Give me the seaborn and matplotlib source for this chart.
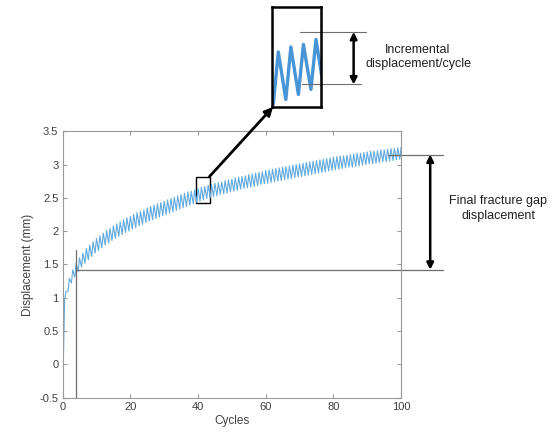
import numpy as np
import pandas as pd
import seaborn as sns
import matplotlib.pyplot as plt

# values (per loading cycle)
cycles = np.arange(1, 101)
peaks = [1.09, 1.29, 1.42, 1.52, 1.60, 1.67, 1.74, 1.79, 1.84, 1.89,
         1.93, 1.97, 2.01, 2.04, 2.08, 2.11, 2.14, 2.17, 2.20, 2.22,
         2.25, 2.28, 2.30, 2.32, 2.35, 2.37, 2.39, 2.41, 2.43, 2.45,
         2.47, 2.49, 2.51, 2.53, 2.55, 2.57, 2.59, 2.60, 2.62, 2.64,
         2.66, 2.67, 2.69, 2.70, 2.72, 2.73, 2.74, 2.76, 2.77, 2.78,
         2.80, 2.81, 2.82, 2.83, 2.85, 2.86, 2.87, 2.88, 2.89, 2.91,
         2.92, 2.93, 2.94, 2.95, 2.96, 2.97, 2.98, 2.99, 3.00, 3.01,
         3.02, 3.03, 3.04, 3.05, 3.06, 3.07, 3.08, 3.09, 3.10, 3.11,
         3.12, 3.13, 3.13, 3.14, 3.15, 3.16, 3.17, 3.17, 3.18, 3.19,
         3.20, 3.20, 3.21, 3.22, 3.22, 3.23, 3.24, 3.24, 3.25, 3.26]
troughs = [0.97, 1.10, 1.22, 1.31, 1.39, 1.46, 1.52, 1.57, 1.62, 1.67,
           1.71, 1.75, 1.79, 1.82, 1.86, 1.89, 1.92, 1.95, 1.98, 2.00,
           2.03, 2.05, 2.08, 2.10, 2.13, 2.15, 2.17, 2.19, 2.21, 2.23,
           2.25, 2.27, 2.29, 2.31, 2.33, 2.35, 2.37, 2.39, 2.41, 2.43,
           2.45, 2.47, 2.49, 2.50, 2.52, 2.53, 2.55, 2.56, 2.57, 2.59,
           2.60, 2.61, 2.63, 2.64, 2.65, 2.66, 2.67, 2.68, 2.70, 2.71,
           2.72, 2.73, 2.74, 2.75, 2.76, 2.77, 2.78, 2.79, 2.80, 2.81,
           2.82, 2.83, 2.84, 2.85, 2.86, 2.87, 2.88, 2.89, 2.90, 2.91,
           2.92, 2.93, 2.94, 2.95, 2.96, 2.96, 2.97, 2.98, 2.99, 3.00,
           3.01, 3.01, 3.02, 3.03, 3.04, 3.04, 3.05, 3.06, 3.07, 3.08]
start_cycle = 0.2
start_disp = 0.0

# marker lines
onset_cycle = 4
onset_top = 1.72
initial_disp = 1.42
final_disp = 3.15
inc_top = 2.72
inc_bottom = 2.51
zoom_x = (39.5, 43.4)
zoom_y = (2.42, 2.82)

# build the trace: trough then peak in every cycle
x = [start_cycle]
y = [start_disp]
for c, lo, hi in zip(cycles, troughs, peaks):
    x += [c - 0.4, c]
    y += [lo, hi]
df = pd.DataFrame({'Cycles': x, 'Displacement': y})

sns.set_theme(style='ticks')
plt.rcParams['font.family'] = ['Liberation Sans', 'DejaVu Sans']
plt.rcParams['axes.edgecolor'] = '#999999'
plt.rcParams['xtick.color'] = '#999999'
plt.rcParams['ytick.color'] = '#999999'
plt.rcParams['xtick.labelcolor'] = '#404040'
plt.rcParams['ytick.labelcolor'] = '#404040'

blue = '#62aae0'
fig = plt.figure(figsize=(5.54, 4.33), dpi=100)
ax = fig.add_axes([0.113, 0.0815, 0.611, 0.6155])

sns.lineplot(data=df, x='Cycles', y='Displacement', ax=ax, sort=False,
             estimator=None, color=blue, lw=0.8)

ax.set_xlim(0, 100)
ax.set_ylim(-0.5, 3.5)
ax.set_xticks(np.arange(0, 101, 20))
ax.set_yticks(np.arange(-0.5, 3.51, 0.5))
ax.set_yticklabels(['-0.5', '0', '0.5', '1', '1.5', '2', '2.5', '3', '3.5'])
ax.tick_params(direction='in', length=3, width=0.8, labelsize=8,
               top=True, right=True, pad=3)
for s in ax.spines.values():
    s.set_linewidth(0.8)
ax.set_xlabel('Cycles', fontsize=8.5, color='#404040', labelpad=2)
ax.set_ylabel('Displacement (mm)', fontsize=8.5, color='#404040', labelpad=4)

# reference lines
gray = '#6e6e6e'
ax.plot([onset_cycle, onset_cycle], [-0.5, onset_top], color=gray, lw=0.9)
ax.plot([onset_cycle, 112.4], [initial_disp, initial_disp], color=gray,
        lw=0.9, clip_on=False)
ax.plot([96.2, 112.4], [final_disp, final_disp], color=gray, lw=0.9,
        clip_on=False)
ax.annotate('', xy=(108.6, final_disp), xytext=(108.6, initial_disp),
            arrowprops=dict(arrowstyle='<|-|>', color='black', lw=1.8,
                            mutation_scale=10, shrinkA=0, shrinkB=0),
            annotation_clip=False)
ax.text(128.7, 2.34, 'Final fracture gap\ndisplacement', fontsize=9,
        ha='center', va='center', color='#202020', linespacing=1.3)

# small box marking the zoomed region
ax.add_patch(plt.Rectangle((zoom_x[0], zoom_y[0]), zoom_x[1] - zoom_x[0],
                           zoom_y[1] - zoom_y[0], fill=False,
                           edgecolor='black', lw=1))
ax.annotate('', xy=(273, 326), xycoords='figure pixels',
            xytext=(zoom_x[1], zoom_y[1]), textcoords='data',
            arrowprops=dict(arrowstyle='-|>', color='black', lw=2,
                            mutation_scale=12, shrinkA=0, shrinkB=0),
            annotation_clip=False)

# inset
ins = fig.add_axes([0.491, 0.753, 0.0884, 0.231])
sns.lineplot(data=df, x='Cycles', y='Displacement', ax=ins, sort=False,
             estimator=None, color='#4794d6', lw=2.4)
ins.set_xlim(*zoom_x)
ins.set_ylim(*zoom_y)
ins.set_xticks([])
ins.set_yticks([])
ins.set_xlabel('')
ins.set_ylabel('')
for s in ins.spines.values():
    s.set_edgecolor('black')
    s.set_linewidth(1.8)
ins.plot([41.7, 47.0], [inc_top, inc_top], color=gray, lw=0.8, clip_on=False)
ins.plot([41.9, 46.6], [inc_bottom, inc_bottom], color=gray, lw=0.8,
         clip_on=False)
ins.annotate('', xy=(46.0, inc_top), xytext=(46.0, inc_bottom),
             arrowprops=dict(arrowstyle='<|-|>', color='black', lw=1.8,
                             mutation_scale=10, shrinkA=0, shrinkB=0),
             annotation_clip=False)
fig.text(418 / 554, 1 - 57 / 433, 'Incremental\ndisplacement/cycle',
         fontsize=9, ha='center', va='center', color='#202020',
         linespacing=1.3)

fig.savefig('out.png', dpi=100)
